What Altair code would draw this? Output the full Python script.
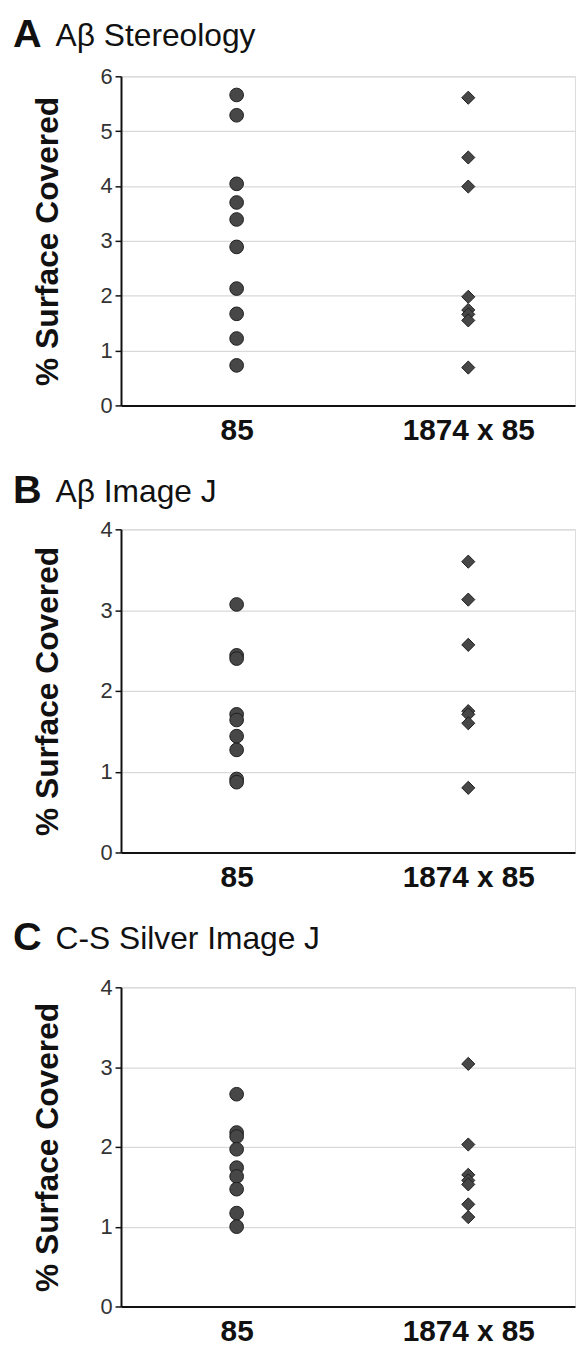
import altair as alt
import pandas as pd

groups = ["85", "1874 x 85"]

letters = ["A", "B", "C"]
titles = ["Aβ Stereology", "Aβ Image J", "C-S Silver Image J"]
y_max = [6, 4, 4]

a_85 = [5.66, 5.29, 4.04, 3.70, 3.39, 2.89, 2.13, 1.67, 1.22, 0.73]
a_1874 = [5.61, 4.52, 3.99, 1.98, 1.74, 1.66, 1.55, 0.69]
b_85 = [3.07, 2.44, 2.40, 1.71, 1.64, 1.44, 1.27, 0.91, 0.87]
b_1874 = [3.60, 3.13, 2.57, 1.75, 1.71, 1.60, 0.80]
c_85 = [2.66, 2.18, 2.13, 1.97, 1.74, 1.63, 1.47, 1.17, 1.00]
c_1874 = [3.04, 2.03, 1.65, 1.58, 1.53, 1.28, 1.12]

series = [(a_85, a_1874), (b_85, b_1874), (c_85, c_1874)]

FONT = "Liberation Sans"
W = 458
heights = [332, 326, 322]
letter_dy = [-30, -27, -38]


def panel(i):
    s85, s1874 = series[i]
    df = pd.DataFrame({
        "group": [groups[0]] * len(s85) + [groups[1]] * len(s1874),
        "value": s85 + s1874,
    })
    ticks = list(range(0, y_max[i] + 1))
    pts = alt.Chart(df).mark_point(filled=True, opacity=1, stroke="#1e1e1e",
                                   strokeWidth=1, fill="#474747").encode(
        x=alt.X("group:N", sort=groups,
                scale=alt.Scale(type="point", padding=0.48, align=0.52),
                axis=alt.Axis(title=None, labelAngle=0, ticks=False,
                              labelFontSize=30, labelFontWeight="bold",
                              labelFont=FONT, labelColor="#111",
                              labelPadding=10, domainColor="#111",
                              domainWidth=2, grid=False)),
        y=alt.Y("value:Q",
                scale=alt.Scale(domain=[0, y_max[i]], nice=False),
                axis=alt.Axis(title="% Surface Covered", values=ticks,
                              format="d", titleFont=FONT, titleFontSize=32,
                              titleFontWeight="bold", titleColor="#111",
                              titlePadding=36, labelFont=FONT,
                              labelFontSize=22, labelColor="#333",
                              labelPadding=3, tickColor="#111", tickSize=6,
                              tickWidth=1.5, domainColor="#111",
                              domainWidth=2, grid=True, gridColor="#d9d9d9",
                              gridWidth=1.2)),
        shape=alt.Shape("group:N", sort=groups,
                        scale=alt.Scale(domain=groups,
                                        range=["circle", "diamond"]),
                        legend=None),
        size=alt.Size("group:N", sort=groups,
                      scale=alt.Scale(domain=groups, range=[190, 175]),
                      legend=None),
    )
    lab = pd.DataFrame({"letter": [letters[i]], "title": [titles[i]]})
    letter = alt.Chart(lab).mark_text(
        align="left", baseline="alphabetic", font=FONT, fontSize=40,
        fontWeight="bold", color="#111").encode(
        text="letter:N", x=alt.value(-109), y=alt.value(letter_dy[i]))
    title = alt.Chart(lab).mark_text(
        align="left", baseline="alphabetic", font=FONT, fontSize=32,
        color="#111").encode(
        text="title:N", x=alt.value(-66), y=alt.value(letter_dy[i] - 1))
    return alt.layer(pts, letter, title).properties(width=W, height=heights[i])


chart = alt.vconcat(panel(0), panel(1), panel(2), spacing=24).properties(
    padding={"left": 4, "top": 0, "right": 0, "bottom": 0}
).configure_view(stroke="transparent").configure(background="white")

chart.save("out.html", embed_options={"renderer": "svg", "actions": False})
